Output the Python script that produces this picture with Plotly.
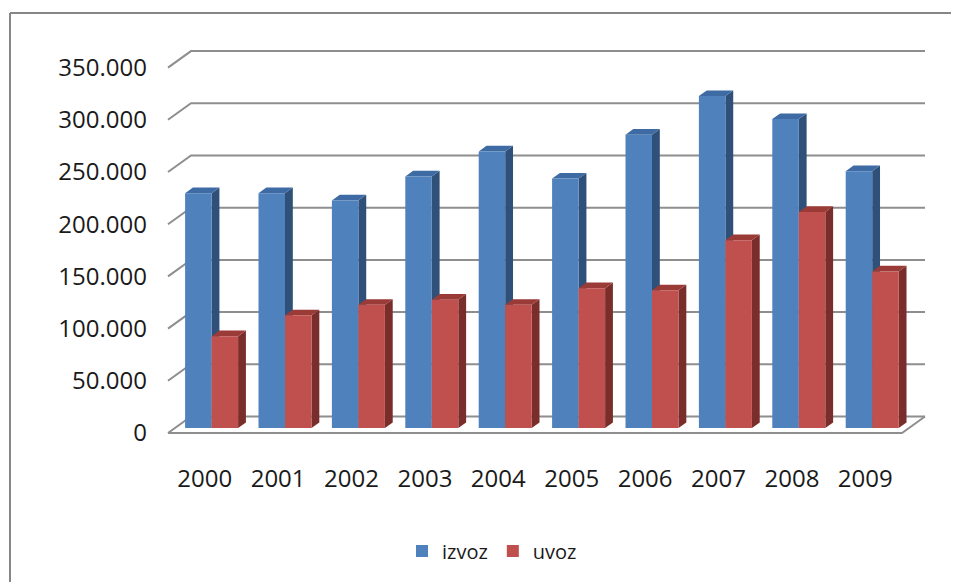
import plotly.graph_objects as go

# ---------------- data ----------------
years = ['2000', '2001', '2002', '2003', '2004', '2005', '2006', '2007', '2008', '2009']
izvoz = [225000, 225000, 218000, 241000, 265000, 239000, 281000, 318000, 296000, 246000]
uvoz = [88000, 108000, 118000, 123000, 118000, 134000, 132000, 180000, 207000, 150000]
series_names = ['izvoz', 'uvoz']
y_ticks = [0, 50000, 100000, 150000, 200000, 250000, 300000, 350000]
y_tick_labels = ['0', '50.000', '100.000', '150.000', '200.000', '250.000', '300.000', '350.000']

# ---------------- geometry / style ----------------
OFF = 8                        # page body margin compensation
FIG_W, FIG_H = 959, 582
X0PX, Y0PX = 168, 433          # front-left corner of floor (page pixels)
SX = 73.4                      # px per category
SY = 52.2 / 50000              # px per value unit
PL, PR, PT, PB = 160, 930, 45, 440   # plot area in page pixels
x_range = [(PL - X0PX) / SX, (PR - X0PX) / SX]
y_range = [-(PB - Y0PX) / SY, (Y0PX - PT) / SY]

DEPTH_X = 23 / SX
DEPTH_Y = 16.5 / SY
BAR_FRONT = 0.30
BAR_DEPTH = 0.34
GROUP = 0.722
N = len(years)

front_cols = ['#4F81BD', '#C0504D']
top_cols = ['#3E6BA3', '#9A3B38']
side_cols = ['#2F5078', '#7A2E2C']
grid_col = '#8E8E8E'
font_fam = 'Open Sans'
txt_col = '#1a1a1a'

fig = go.Figure()

# back wall gridlines + left diagonals
gx, gy = [], []
for v in y_ticks:
    gx += [0, DEPTH_X, N + DEPTH_X, None]
    gy += [v, v + DEPTH_Y, v + DEPTH_Y, None]
# floor front and right edges
gx += [0, N, N + DEPTH_X, None]
gy += [0, 0, DEPTH_Y, None]
fig.add_trace(go.Scatter(x=gx, y=gy, mode='lines', line=dict(color=grid_col, width=2),
                         hoverinfo='skip', showlegend=False))

# bars
ddx = BAR_DEPTH * DEPTH_X
ddy = BAR_DEPTH * DEPTH_Y
base = BAR_FRONT * DEPTH_Y
for s, vals in enumerate([izvoz, uvoz]):
    fx, fy, tx, ty, sx_, sy_ = [], [], [], [], [], []
    for i, v in enumerate(vals):
        xl = i + (1 - GROUP) / 2 + BAR_FRONT * DEPTH_X + s * GROUP / 2
        xr = xl + GROUP / 2
        top = base + v
        fx += [xl, xr, xr, xl, xl, None]
        fy += [base, base, top, top, base, None]
        tx += [xl, xr, xr + ddx, xl + ddx, xl, None]
        ty += [top, top, top + ddy, top + ddy, top, None]
        sx_ += [xr, xr + ddx, xr + ddx, xr, xr, None]
        sy_ += [base, base + ddy, top + ddy, top, base, None]
    for xs, ys, col in [(sx_, sy_, side_cols[s]), (tx, ty, top_cols[s]), (fx, fy, front_cols[s])]:
        fig.add_trace(go.Scatter(x=xs, y=ys, mode='lines', fill='toself', fillcolor=col,
                                 line=dict(width=0, color=col), hoverinfo='skip',
                                 showlegend=False))

# legend entries (off-range bars, only to get square legend keys)
for s, name in enumerate(series_names):
    fig.add_trace(go.Bar(x=[-50], y=[1], name=name, marker=dict(color=front_cols[s], line=dict(width=0)),
                         hoverinfo='skip'))

def px_to_paper_x(p):
    return (p - PL) / (PR - PL)

def px_to_paper_y(p):
    return (PB - p) / (PB - PT)

frame_col = '#868686'
fig.update_layout(
    width=FIG_W, height=FIG_H,
    margin=dict(l=PL - OFF, r=OFF + FIG_W - PR, t=PT - OFF, b=OFF + FIG_H - PB, pad=0),
    paper_bgcolor='white', plot_bgcolor='white',
    showlegend=True,
    legend=dict(orientation='h', x=px_to_paper_x(492), xanchor='center',
                y=px_to_paper_y(551), yanchor='middle',
                font=dict(family=font_fam, size=20, color=txt_col),
                itemwidth=30, traceorder='normal'),
    xaxis=dict(range=x_range, showgrid=False, zeroline=False, showline=False,
               tickmode='array', tickvals=[i + 0.5 for i in range(N)], ticktext=years,
               ticks='', ticklabelstandoff=22,
               tickfont=dict(family=font_fam, size=24, color=txt_col), fixedrange=True),
    yaxis=dict(range=y_range, showgrid=False, zeroline=False, showline=False,
               tickmode='array', tickvals=y_ticks, ticktext=y_tick_labels,
               ticks='', ticklabelstandoff=12,
               tickfont=dict(family=font_fam, size=24, color=txt_col), fixedrange=True),
    shapes=[
        dict(type='line', xref='paper', yref='paper',
             x0=px_to_paper_x(10), x1=px_to_paper_x(1000), y0=px_to_paper_y(13), y1=px_to_paper_y(13),
             line=dict(color=frame_col, width=2), layer='below'),
        dict(type='line', xref='paper', yref='paper',
             x0=px_to_paper_x(10), x1=px_to_paper_x(10), y0=px_to_paper_y(13), y1=px_to_paper_y(620),
             line=dict(color=frame_col, width=2), layer='below'),
    ],
)

fig.write_html('out.html')
